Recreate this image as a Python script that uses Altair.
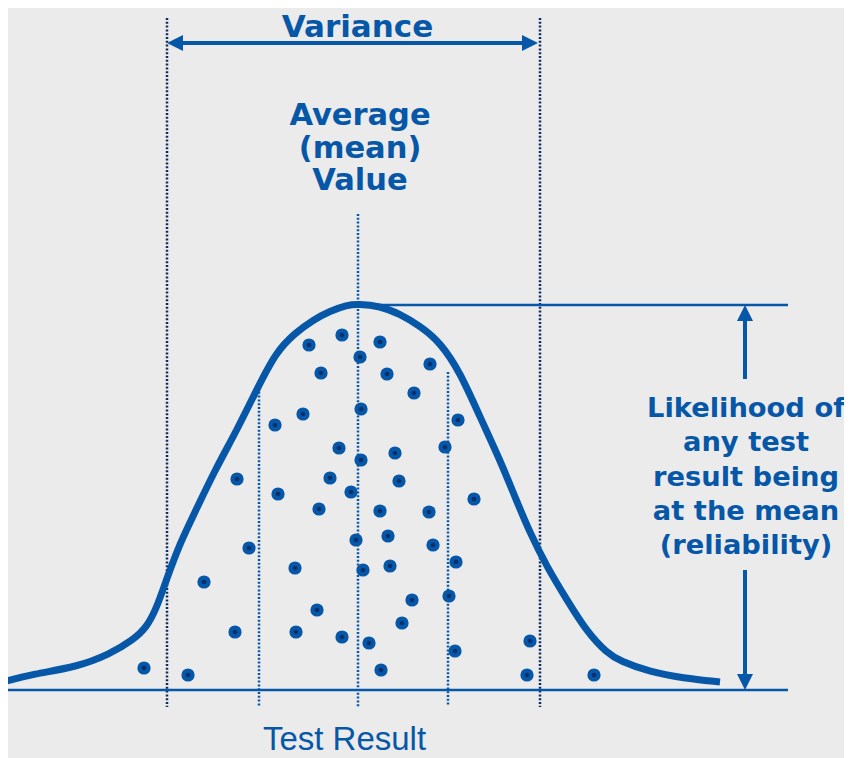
import altair as alt
import pandas as pd

BLUE = "#0657a7"
NAVY = "#0c2c62"
DOTC = "#0b2f6a"
BG = "#ebebeb"

# ---------------- data ----------------
# x = position along the "Test Result" axis, y = vertical position (larger = lower)
curve_x = [3, 33, 77, 110, 133, 147, 157, 167, 180, 196, 215, 237, 258, 276, 295,
           313, 330, 347, 358, 380, 400, 420, 440, 460, 480, 500, 515, 530, 547,
           567, 587, 607, 620, 650, 683, 720]
curve_y = [682, 674, 667, 654, 640, 627, 607, 578, 543, 510, 470, 430, 387, 352, 333,
           320, 311, 305, 304, 306, 314, 326, 342, 372, 417, 460, 497, 533, 567,
           600, 632, 653, 661, 672, 678, 682]

dot_x = [309, 342, 380, 360, 321, 387, 430, 414, 303, 275, 361, 458, 339, 445, 361,
         395, 237, 278, 330, 351, 399, 474, 319, 380, 429, 249, 356, 388, 433, 295,
         363, 390, 456, 204, 412, 449, 317, 235, 296, 342, 369, 402, 455, 530, 144,
         188, 381, 527, 594]
dot_y = [345, 335, 342, 357, 373, 374, 364, 393, 414, 425, 409, 420, 448, 447, 460,
         453, 479, 494, 478, 492, 481, 499, 509, 511, 512, 548, 540, 536, 545, 568,
         570, 566, 562, 582, 600, 596, 610, 632, 632, 637, 643, 623, 651, 641, 668,
         675, 670, 675, 675]

guide_x = [167, 540, 259, 358, 448]
guide_top = [18, 18, 388, 214, 372]
guide_bottom = [707, 707, 707, 707, 706]
guide_kind = ["outer", "outer", "inner", "inner", "inner"]

base_x = [0, 788]
base_y = 690
peak_x = [358, 788]
peak_y = 305

var_y = 43
var_shaft = [180, 525]
var_tips = [167, 538]

rel_x = 745
rel_up_tip = 305
rel_up_shaft = [318, 379]
rel_down_shaft = [570, 678]
rel_down_tip = 690

avg_lines = ["Average", "(mean)", "Value"]
avg_base = [125, 157.5, 190]
avg_x = 360

right_lines = ["Likelihood of", "any test", "result being", "at the mean", "(reliability)"]
right_base = [417, 451.3, 485.5, 519.8, 554]
right_x = 746

W, H = 836, 750

xs = alt.Scale(domain=[8, 8 + W], nice=False, zero=False)
ys = alt.Scale(domain=[8, 8 + H], nice=False, zero=False, reverse=True)


def X(f="x"):
    return alt.X(f"{f}:Q", scale=xs, axis=None)


def Y(f="y"):
    return alt.Y(f"{f}:Q", scale=ys, axis=None)


curve_df = pd.DataFrame({"x": curve_x, "y": curve_y})
dots_df = pd.DataFrame({"x": dot_x, "y": dot_y})
guides_df = pd.DataFrame({"x": guide_x, "y": guide_top, "y2": guide_bottom, "kind": guide_kind})

hrules_df = pd.DataFrame({
    "x": [base_x[0], peak_x[0]], "x2": [base_x[1], peak_x[1]],
    "y": [base_y, peak_y]})

guides_outer = alt.Chart(guides_df[guides_df.kind == "outer"]).mark_rule(
    color=NAVY, strokeWidth=2.5, strokeDash=[2, 1.8]).encode(
    x=X(), y=Y(), y2="y2:Q")
guides_inner = alt.Chart(guides_df[guides_df.kind == "inner"]).mark_rule(
    color=BLUE, strokeWidth=2.5, strokeDash=[2, 1.8]).encode(
    x=X(), y=Y(), y2="y2:Q")

hrules = alt.Chart(hrules_df).mark_rule(color=BLUE, strokeWidth=2.5).encode(
    x=X(), x2="x2:Q", y=Y())

# arrow shafts
shafts_df = pd.DataFrame({
    "x": [var_shaft[0], rel_x, rel_x],
    "x2": [var_shaft[1], rel_x, rel_x],
    "y": [var_y, rel_up_shaft[0], rel_down_shaft[0]],
    "y2": [var_y, rel_up_shaft[1], rel_down_shaft[1]],
})
shafts = alt.Chart(shafts_df).mark_rule(color=BLUE, strokeWidth=4).encode(
    x=X(), x2="x2:Q", y=Y(), y2="y2:Q")

heads_df = pd.DataFrame({
    "x": [var_tips[0], var_tips[1], rel_x, rel_x],
    "y": [var_y, var_y, rel_up_tip, rel_down_tip],
    "dir": ["left", "right", "up", "down"],
})
shapes = {
    "left": "M0,0L2,-1L2,1Z",
    "right": "M0,0L-2,-1L-2,1Z",
    "up": "M0,0L1,2L-1,2Z",
    "down": "M0,0L-1,-2L1,-2Z",
}
heads = alt.layer(*[
    alt.Chart(heads_df[heads_df.dir == d]).mark_point(
        shape=p, filled=True, size=256, color=BLUE, opacity=1, strokeWidth=0).encode(
        x=X(), y=Y())
    for d, p in shapes.items()
])

curve = alt.Chart(curve_df).mark_line(
    color=BLUE, strokeWidth=7, interpolate="basis", strokeCap="butt").encode(
    x=X(), y=Y(), order="x:Q")

dots_outer = alt.Chart(dots_df).mark_circle(size=175, color=BLUE, opacity=1).encode(
    x=X(), y=Y())
dots_inner = alt.Chart(dots_df).mark_circle(size=22, color=DOTC, opacity=1).encode(
    x=X(), y=Y())

bold_font = "DejaVu Sans"

variance_df = pd.DataFrame({"x": [357.5], "y": [36.5], "t": ["Variance"]})
variance_txt = alt.Chart(variance_df).mark_text(
    font=bold_font, fontWeight="bold", fontSize=31, color=BLUE,
    align="center", baseline="alphabetic").encode(x=X(), y=Y(), text="t:N")

avg_df = pd.DataFrame({"x": [avg_x] * 3, "y": avg_base, "t": avg_lines})
avg_txt = alt.Chart(avg_df).mark_text(
    font=bold_font, fontWeight="bold", fontSize=30.5, color=BLUE,
    align="center", baseline="alphabetic").encode(x=X(), y=Y(), text="t:N")

right_df = pd.DataFrame({"x": [right_x] * 5, "y": right_base, "t": right_lines})
right_txt = alt.Chart(right_df).mark_text(
    font=bold_font, fontWeight="bold", fontSize=27.3, color=BLUE,
    align="center", baseline="alphabetic").encode(x=X(), y=Y(), text="t:N")

xlabel_df = pd.DataFrame({"x": [344.5], "y": [750], "t": ["Test Result"]})
xlabel_txt = alt.Chart(xlabel_df).mark_text(
    font="Liberation Sans", fontSize=33, color=BLUE,
    align="center", baseline="alphabetic").encode(x=X(), y=Y(), text="t:N")

chart = alt.layer(
    guides_outer, guides_inner, hrules, shafts, heads, curve,
    dots_outer, dots_inner, variance_txt, avg_txt, right_txt, xlabel_txt
).properties(
    width=W, height=H, background=BG, padding=0,
    autosize=alt.AutoSizeParams(type="none")
).configure_view(stroke=None)

chart.save("out.html", embed_options={"renderer": "svg", "actions": False})
